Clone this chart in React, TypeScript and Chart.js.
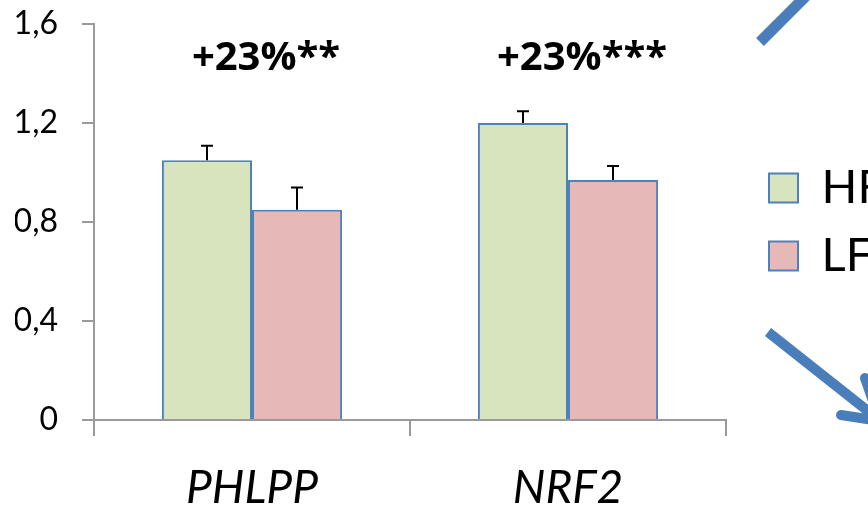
import React, { useEffect, useRef } from 'react';
import { Chart, registerables } from 'chart.js';

Chart.register(...registerables);

const categories = ['PHLPP', 'NRF2'];
const seriesNames = ['HF', 'LF'];
const hfValues = [1.05, 1.2];
const lfValues = [0.85, 0.97];
const hfErrors = [0.058, 0.047];
const lfErrors = [0.089, 0.056];
const annotations = ['+23%**', '+23%***'];
const annotationValue = 1.414;
const yTickValues = [0, 0.4, 0.8, 1.2, 1.6];
const yTickLabels = ['0', '0,4', '0,8', '1,2', '1,6'];

const AXIS_GRAY = '#9a9a9a';
const ARROW_BLUE = '#4a7ebb';

const errorBarPlugin = {
  id: 'errorBars',
  afterDatasetsDraw(chart: any) {
    const ctx = chart.ctx;
    const yScale = chart.scales.y;
    const errs = [hfErrors, lfErrors];
    ctx.save();
    ctx.strokeStyle = '#000';
    ctx.lineWidth = 2;
    chart.data.datasets.forEach((ds: any, i: number) => {
      const meta = chart.getDatasetMeta(i);
      meta.data.forEach((bar: any, j: number) => {
        const v = ds.data[j] + errs[i][j];
        const yTop = yScale.getPixelForValue(v);
        const x = Math.round(bar.x);
        ctx.beginPath();
        ctx.moveTo(x, bar.y);
        ctx.lineTo(x, yTop);
        ctx.moveTo(x - 6, yTop);
        ctx.lineTo(x + 6, yTop);
        ctx.stroke();
      });
    });
    ctx.restore();
  },
};

const annotationPlugin = {
  id: 'annotations',
  afterDraw(chart: any) {
    const ctx = chart.ctx;
    const xScale = chart.scales.x;
    const yScale = chart.scales.y;
    ctx.save();
    ctx.fillStyle = '#000';
    ctx.font = 'bold 40px "Open Sans"';
    ctx.textAlign = 'center';
    ctx.textBaseline = 'alphabetic';
    annotations.forEach((t, i) => {
      ctx.fillText(t, xScale.getPixelForValue(i) + 14, yScale.getPixelForValue(annotationValue));
    });
    ctx.restore();
  },
};

const legendShiftPlugin = {
  id: 'legendShift',
  afterLayout(chart: any) {
    const lg = chart.legend;
    if (lg) {
      lg.left += 22;
      lg.right += 22;
    }
  },
};

const arrowsPlugin = {
  id: 'arrows',
  afterDraw(chart: any) {
    const ctx = chart.ctx;
    ctx.save();
    ctx.strokeStyle = ARROW_BLUE;
    ctx.lineWidth = 11;
    ctx.lineCap = 'butt';
    ctx.beginPath();
    ctx.moveTo(760, 42);
    ctx.lineTo(812, -10);
    ctx.stroke();
    ctx.lineWidth = 10;
    ctx.beginPath();
    ctx.moveTo(768, 332);
    ctx.lineTo(878, 419);
    ctx.stroke();
    ctx.lineCap = 'round';
    ctx.beginPath();
    ctx.moveTo(841, 415);
    ctx.lineTo(880, 421);
    ctx.moveTo(865, 378);
    ctx.lineTo(880, 421);
    ctx.stroke();
    ctx.restore();
  },
};

export default function App() {
  const canvasRef = useRef<HTMLCanvasElement | null>(null);

  useEffect(() => {
    if (!canvasRef.current) return;
    Chart.defaults.font.family = 'Lato';
    Chart.defaults.color = '#000';
    const chart = new Chart(canvasRef.current, {
      type: 'bar',
      data: {
        labels: categories,
        datasets: [
          {
            label: seriesNames[0],
            data: hfValues,
            backgroundColor: '#d7e4bd',
            borderColor: '#4f81bd',
            borderWidth: 2,
          },
          {
            label: seriesNames[1],
            data: lfValues,
            backgroundColor: '#e6b9b8',
            borderColor: '#4f81bd',
            borderWidth: 2,
          },
        ],
      },
      options: {
        responsive: false,
        animation: false,
        devicePixelRatio: 1,
        layout: { padding: { left: 15, top: 24, right: 104, bottom: 6 } },
        datasets: {
          bar: { categoryPercentage: 0.57, barPercentage: 1 },
        },
        plugins: {
          tooltip: { enabled: false },
          legend: {
            position: 'right',
            fullSize: false,
            maxWidth: 130,
            labels: {
              boxWidth: 29,
              boxHeight: 29,
              padding: 21,
              color: '#000',
              font: { size: 47, family: 'Lato' },
            },
          },
        },
        scales: {
          x: {
            afterFit: (s: any) => {
              s.height = 94;
            },
            grid: {
              offset: true,
              drawOnChartArea: false,
              drawTicks: true,
              tickLength: 16,
              color: AXIS_GRAY,
              lineWidth: 2,
            },
            border: { display: true, color: AXIS_GRAY, width: 2 },
            ticks: {
              padding: 25,
              color: '#000',
              font: { size: 46, style: 'italic', family: 'Lato' },
            },
          },
          y: {
            min: 0,
            max: 1.6,
            afterFit: (s: any) => {
              s.width = 79;
              s.paddingTop = 0;
              s.paddingBottom = 0;
            },
            grid: {
              drawOnChartArea: false,
              drawTicks: true,
              tickLength: 12,
              color: AXIS_GRAY,
              lineWidth: 2,
            },
            border: { display: true, color: AXIS_GRAY, width: 2 },
            ticks: {
              stepSize: 0.4,
              padding: 24,
              color: '#000',
              font: { size: 32, family: 'Lato' },
              callback: (value: any) => {
                const idx = yTickValues.findIndex((v) => Math.abs(v - Number(value)) < 1e-6);
                return idx >= 0 ? yTickLabels[idx] : '';
              },
            },
          },
        },
      },
      plugins: [errorBarPlugin, annotationPlugin, legendShiftPlugin, arrowsPlugin],
    });
    return () => chart.destroy();
  }, []);

  return (
    <div
      style={{
        position: 'fixed',
        left: 0,
        top: 0,
        width: 868,
        height: 507,
        overflow: 'hidden',
        background: '#fff',
      }}
    >
      <canvas ref={canvasRef} width={960} height={520} style={{ display: 'block' }} />
    </div>
  );
}
